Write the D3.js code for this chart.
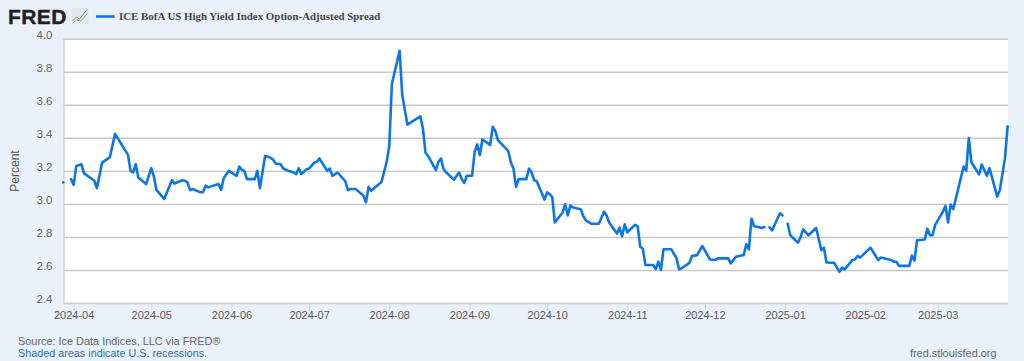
<!DOCTYPE html>
<html>
<head>
<meta charset="utf-8">
<script src="https://cdn.jsdelivr.net/npm/d3@7"></script>
<style>
  html, body { margin: 0; padding: 0; background: #e9f1fa; }
  svg { display: block; }
  text { font-family: "Liberation Sans", Arial, sans-serif; }
</style>
</head>
<body>
<div id="chart"></div>
<script>
const chartTitle = 'ICE BofA US High Yield Index Option-Adjusted Spread';

// tick labels
const yTicks = [2.4, 2.6, 2.8, 3.0, 3.2, 3.4, 3.6, 3.8, 4.0];
const xTickDates = ['2024-04-01', '2024-05-01', '2024-06-01', '2024-07-01', '2024-08-01', '2024-09-01',
    '2024-10-01', '2024-11-01', '2024-12-01', '2025-01-01', '2025-02-01', '2025-03-01'];

// turning points only. null = gap in the line
const obsDates = [
    '2024-03-28', '2024-03-29', '2024-03-31',
    '2024-04-01', '2024-04-02', '2024-04-04', '2024-04-05', '2024-04-09', '2024-04-10', '2024-04-12', '2024-04-15', '2024-04-17', '2024-04-22', '2024-04-23', '2024-04-24', '2024-04-25', '2024-04-26', '2024-04-29',
    '2024-05-01', '2024-05-02', '2024-05-03', '2024-05-06', '2024-05-09', '2024-05-10', '2024-05-13', '2024-05-14', '2024-05-15', '2024-05-16', '2024-05-17', '2024-05-20', '2024-05-21', '2024-05-22', '2024-05-23', '2024-05-27', '2024-05-28', '2024-05-29', '2024-05-31',
    '2024-06-03', '2024-06-04', '2024-06-05', '2024-06-06', '2024-06-07', '2024-06-10', '2024-06-11', '2024-06-12', '2024-06-14', '2024-06-16', '2024-06-17', '2024-06-18', '2024-06-20', '2024-06-21', '2024-06-23', '2024-06-25', '2024-06-26', '2024-06-27', '2024-06-28', '2024-06-30',
    '2024-07-01', '2024-07-03', '2024-07-04', '2024-07-05', '2024-07-08', '2024-07-09', '2024-07-10', '2024-07-12', '2024-07-15', '2024-07-16', '2024-07-17', '2024-07-19', '2024-07-22', '2024-07-23', '2024-07-24', '2024-07-25', '2024-07-29', '2024-07-31',
    '2024-08-01', '2024-08-02', '2024-08-05', '2024-08-06', '2024-08-08', '2024-08-13', '2024-08-14', '2024-08-15', '2024-08-16', '2024-08-19', '2024-08-20', '2024-08-21', '2024-08-22', '2024-08-23', '2024-08-26', '2024-08-28', '2024-08-29', '2024-08-30', '2024-08-31',
    '2024-09-02', '2024-09-03', '2024-09-04', '2024-09-05', '2024-09-06', '2024-09-09', '2024-09-10', '2024-09-11', '2024-09-12', '2024-09-16', '2024-09-17', '2024-09-18', '2024-09-19', '2024-09-20', '2024-09-23', '2024-09-24', '2024-09-25', '2024-09-26', '2024-09-27', '2024-09-30',
    '2024-10-01', '2024-10-02', '2024-10-03', '2024-10-04', '2024-10-07', '2024-10-08', '2024-10-09', '2024-10-10', '2024-10-11', '2024-10-14', '2024-10-15', '2024-10-16', '2024-10-18', '2024-10-21', '2024-10-23', '2024-10-24', '2024-10-25', '2024-10-28', '2024-10-29', '2024-10-30', '2024-10-31',
    '2024-11-01', '2024-11-04', '2024-11-05', '2024-11-06', '2024-11-07', '2024-11-08', '2024-11-11', '2024-11-12', '2024-11-13', '2024-11-14', '2024-11-15', '2024-11-18', '2024-11-20', '2024-11-21', '2024-11-22', '2024-11-25', '2024-11-26', '2024-11-28', '2024-11-30',
    '2024-12-03', '2024-12-05', '2024-12-06', '2024-12-10', '2024-12-11', '2024-12-13', '2024-12-16', '2024-12-17', '2024-12-18', '2024-12-19', '2024-12-20', '2024-12-23', '2024-12-24', '2024-12-25', '2024-12-26', '2024-12-27', '2024-12-30', '2024-12-31',
    '2025-01-01', '2025-01-02', '2025-01-03', '2025-01-06', '2025-01-07', '2025-01-08', '2025-01-10', '2025-01-13', '2025-01-15', '2025-01-16', '2025-01-17', '2025-01-20', '2025-01-22', '2025-01-23', '2025-01-24', '2025-01-27', '2025-01-28', '2025-01-29', '2025-01-30',
    '2025-02-03', '2025-02-06', '2025-02-07', '2025-02-11', '2025-02-12', '2025-02-13', '2025-02-14', '2025-02-18', '2025-02-19', '2025-02-20', '2025-02-21', '2025-02-24', '2025-02-25', '2025-02-26', '2025-02-27', '2025-02-28',
    '2025-03-03', '2025-03-04', '2025-03-05', '2025-03-06', '2025-03-07', '2025-03-11', '2025-03-12', '2025-03-13', '2025-03-14', '2025-03-17', '2025-03-18', '2025-03-20', '2025-03-21', '2025-03-24', '2025-03-25', '2025-03-27', '2025-03-28'
];

const spreadValues = [
    3.13, null, 3.15,
    3.115, 3.23, 3.24, 3.185, 3.14, 3.095, 3.25, 3.283, 3.424, 3.297, 3.2, 3.19, 3.24, 3.16, 3.12,
    3.216, 3.166, 3.085, 3.03, 3.143, 3.123, 3.143, 3.14, 3.13, 3.083, 3.09, 3.07, 3.07, 3.11, 3.1, 3.12, 3.085, 3.155, 3.2,
    3.17, 3.226, 3.206, 3.2, 3.15, 3.15, 3.2, 3.095, 3.29, 3.28, 3.27, 3.245, 3.24, 3.214, 3.2, 3.19, 3.18, 3.216, 3.18, 3.21,
    3.214, 3.25, 3.255, 3.275, 3.2, 3.214, 3.17, 3.19, 3.137, 3.083, 3.09, 3.09, 3.05, 3.01, 3.103, 3.08, 3.133, 3.255,
    3.35, 3.725, 3.927, 3.66, 3.48, 3.53, 3.456, 3.31, 3.29, 3.204, 3.255, 3.275, 3.21, 3.19, 3.147, 3.19, 3.15, 3.127, 3.17,
    3.17, 3.315, 3.36, 3.295, 3.39, 3.357, 3.467, 3.44, 3.386, 3.32, 3.25, 3.214, 3.103, 3.15, 3.15, 3.214, 3.19, 3.143, 3.137, 3.026,
    3.07, 3.06, 3.04, 2.887, 2.948, 2.998, 2.93, 2.99, 2.978, 2.968, 2.925, 2.9, 2.88, 2.88, 2.953, 2.93, 2.887, 2.82, 2.857, 2.804, 2.877,
    2.828, 2.873, 2.865, 2.74, 2.73, 2.63, 2.63, 2.605, 2.65, 2.6, 2.725, 2.725, 2.673, 2.605, 2.61, 2.643, 2.685, 2.69, 2.745,
    2.663, 2.66, 2.67, 2.67, 2.64, 2.68, 2.69, 2.757, 2.725, 2.91, 2.866, 2.854, 2.86, null, 2.858, 2.84, 2.943, 2.93,
    null, 2.88, 2.81, 2.765, 2.8, 2.846, 2.81, 2.854, 2.72, 2.735, 2.645, 2.643, 2.588, 2.614, 2.604, 2.66, 2.663, 2.685, 2.675,
    2.735, 2.66, 2.675, 2.66, 2.65, 2.65, 2.625, 2.625, 2.687, 2.657, 2.78, 2.784, 2.85, 2.81, 2.81, 2.873,
    2.953, 2.988, 2.887, 2.996, 2.968, 3.226, 3.2, 3.398, 3.252, 3.178, 3.238, 3.17, 3.216, 3.044, 3.085, 3.277, 3.47
];

const parseDate = d3.utcParse('%Y-%m-%d');
const formatMonth = d3.utcFormat('%Y-%m');

const width = 1024;
const height = 361;
const margin = { top: 38.7, right: 16, bottom: 58, left: 63.5 };

const svg = d3.select('#chart').append('svg')
    .attr('width', width)
    .attr('height', height);

svg.append('rect')
    .attr('width', width)
    .attr('height', height)
    .attr('fill', '#e9f1fa');

const x = d3.scaleUtc()
    .domain([parseDate('2024-03-28'), parseDate('2025-03-28')])
    .range([margin.left - 0.2, width - margin.right - 0.4]);

const y = d3.scaleLinear()
    .domain([2.4, 4.0])
    .range([height - margin.bottom, margin.top]);

// plot background
svg.append('rect')
    .attr('x', margin.left)
    .attr('y', margin.top)
    .attr('width', width - margin.left - margin.right)
    .attr('height', height - margin.top - margin.bottom)
    .attr('fill', '#ffffff');

// y axis with grid lines
const yAxis = svg.append('g')
    .attr('transform', `translate(${margin.left},0)`)
    .call(d3.axisLeft(y)
        .tickValues(yTicks)
        .tickSize(-(width - margin.left - margin.right))
        .tickSizeOuter(0)
        .tickPadding(11)
        .tickFormat(d3.format('.1f')));

yAxis.select('.domain').attr('stroke', '#c4c8cc').attr('stroke-width', 1.2);
yAxis.selectAll('.tick line').attr('stroke', '#c8c8c8').attr('stroke-width', 1.4);
yAxis.selectAll('.tick text')
    .attr('dy', '-0.05em')
    .attr('fill', '#666666')
    .style('font-size', '11.5px');

// x axis
const xAxis = svg.append('g')
    .attr('transform', `translate(0,${height - margin.bottom})`)
    .call(d3.axisBottom(x)
        .tickValues(xTickDates.map(parseDate))
        .tickSize(7)
        .tickSizeOuter(0)
        .tickPadding(1.5)
        .tickFormat(formatMonth));

xAxis.select('.domain').attr('stroke', '#c8ccd2').attr('stroke-width', 1.2);
xAxis.selectAll('.tick line').attr('stroke', '#ccd6e6').attr('stroke-width', 1);
xAxis.selectAll('.tick text')
    .attr('fill', '#595959')
    .style('font-size', '11px');

// spread line, broken where the series has no value
const seriesData = obsDates.map((d, i) => ({ date: parseDate(d), value: spreadValues[i] }));

const line = d3.line()
    .defined(d => d.value !== null)
    .x(d => x(d.date))
    .y(d => y(d.value));

svg.append('path')
    .datum(seriesData)
    .attr('fill', 'none')
    .attr('stroke', '#0d76e4')
    .attr('stroke-width', 2.6)
    .attr('stroke-linejoin', 'round')
    .attr('stroke-linecap', 'round')
    .attr('d', line);

// y axis label
svg.append('text')
    .attr('transform', 'translate(19,171) rotate(-90)')
    .attr('text-anchor', 'middle')
    .attr('fill', '#555555')
    .attr('font-size', '12px')
    .text('Percent');

// legend
svg.append('line')
    .attr('x1', 96)
    .attr('x2', 114.5)
    .attr('y1', 16.5)
    .attr('y2', 16.5)
    .attr('stroke', '#0d76e4')
    .attr('stroke-width', 2.6);

svg.append('text')
    .attr('x', 119)
    .attr('y', 20)
    .attr('fill', '#444444')
    .attr('font-size', '10.9px')
    .attr('font-weight', 'bold')
    .style('font-family', '"Liberation Serif", "Times New Roman", serif')
    .text(chartTitle);

// FRED logo
svg.append('text')
    .attr('x', 8)
    .attr('y', 24)
    .attr('fill', '#231f20')
    .attr('stroke', '#231f20')
    .attr('stroke-width', 0.4)
    .attr('font-size', '21px')
    .attr('font-weight', 'bold')
    .attr('letter-spacing', '0.4')
    .text('FRED');

const logo = svg.append('g').attr('transform', 'translate(71.5,8)');
logo.append('rect')
    .attr('width', 17)
    .attr('height', 16)
    .attr('fill', '#e3e6e6');
logo.append('path')
    .attr('d', 'M1,13 L5,9 L8,11 L12,6 L16,1')
    .attr('fill', 'none')
    .attr('stroke', '#7e9cb8')
    .attr('stroke-width', 1);
logo.append('path')
    .attr('d', 'M1,15 L5,12 L9,13 L13,9 L16,5')
    .attr('fill', 'none')
    .attr('stroke', '#9db262')
    .attr('stroke-width', 1);

// footer
svg.append('text')
    .attr('x', 18)
    .attr('y', 345)
    .attr('fill', '#666666')
    .attr('font-size', '10.9px')
    .text('Source: Ice Data Indices, LLC via FRED®');

svg.append('text')
    .attr('x', 18)
    .attr('y', 357)
    .attr('fill', '#3c6aa8')
    .attr('font-size', '10.8px')
    .text('Shaded areas indicate U.S. recessions.');

svg.append('text')
    .attr('x', 996.5)
    .attr('y', 357)
    .attr('text-anchor', 'end')
    .attr('fill', '#666666')
    .attr('font-size', '10.9px')
    .text('fred.stlouisfed.org');
</script>
</body>
</html>
